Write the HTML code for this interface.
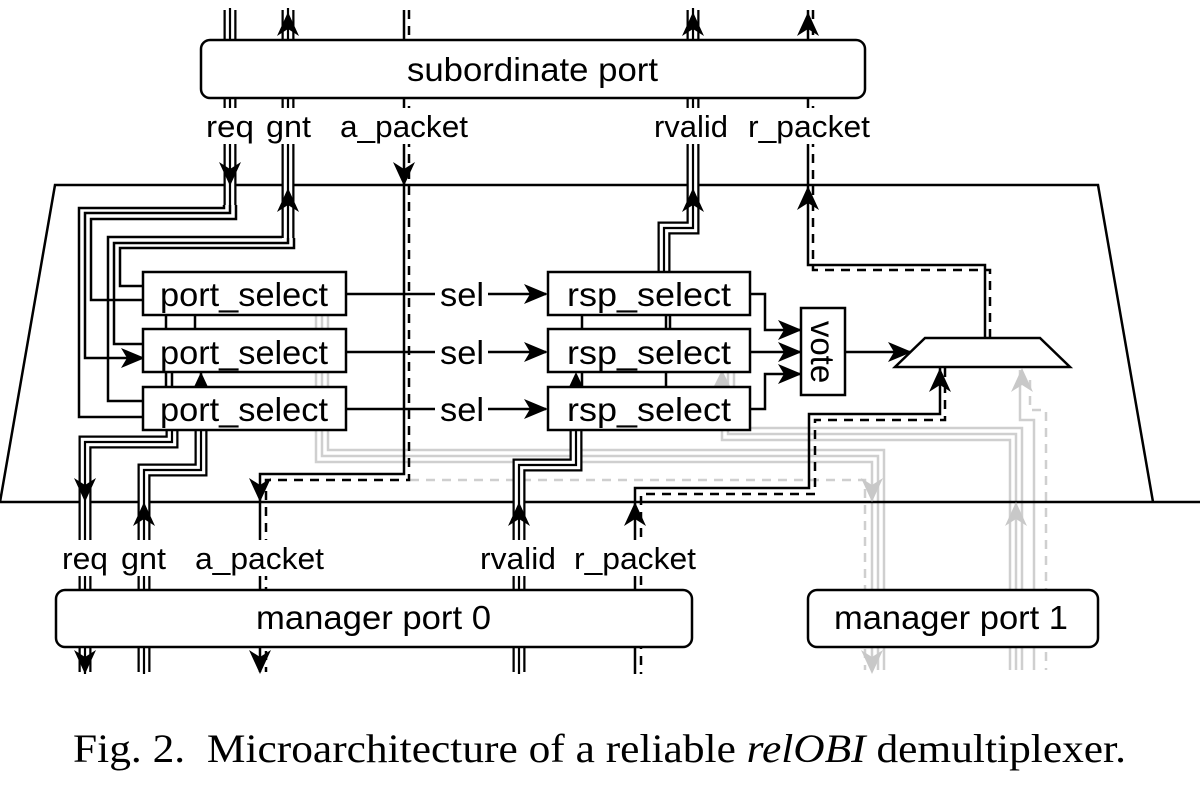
<!DOCTYPE html>
<html><head><meta charset="utf-8"><style>
html,body{margin:0;padding:0;background:#fff;}
svg{display:block;}
text{font-family:"Liberation Sans",sans-serif;fill:#000;}
.tri{fill:none;stroke-linejoin:miter;}
</style></head><body>
<svg width="1200" height="793" viewBox="0 0 1200 793" xmlns="http://www.w3.org/2000/svg">
<defs>
<marker id="a" markerWidth="26" markerHeight="22" refX="22" refY="10" orient="auto" markerUnits="userSpaceOnUse"><path d="M0,0 L24,10 L0,20 L6,10 Z" fill="#000"/></marker>
</defs>

<g fill="none" stroke="#cfcfcf" stroke-width="2.5">
<path d="M316,315 V462 H872 V670"/>
<path d="M322,315 V456 H878 V670"/>
<path d="M328,315 V450 H884 V670"/>
<path d="M722,370 V440 H1010 V670"/>
<path d="M728,370 V434 H1016 V670"/>
<path d="M734,370 V428 H1022 V670"/>
<path d="M1020,370 V420 H1034 V670"/>
<path d="M410,480 H865 V670" stroke-dasharray="9,7"/>
<path d="M1030,380 V410 H1046 V670" stroke-dasharray="9,7"/>
</g>

<path d="M0,502 L55,185 H1098 L1153,502" fill="none" stroke="#000" stroke-width="2.5"/>
<line x1="0" y1="502" x2="1200" y2="502" stroke="#000" stroke-width="2.5"/>

<g class="tri">
<g stroke="#000" stroke-width="13"><path d="M230,10 V40"/><path d="M288,10 V40"/><path d="M693,10 V40"/>
<path d="M230,98 V205"/><path d="M288,98 V238"/><path d="M693,98 V228 H664 V272"/>
<path d="M172,430 V442 H85 V672"/><path d="M201,430 V470 H144 V672"/>
<path d="M576,430 V465 H519 V672"/></g>
<g stroke="#fff" stroke-width="8.5"><path d="M230,8 V40"/><path d="M288,8 V40"/><path d="M693,8 V40"/>
<path d="M230,98 V205"/><path d="M288,98 V238"/><path d="M693,98 V228 H664 V273"/>
<path d="M172,429 V442 H85 V674"/><path d="M201,429 V470 H144 V674"/>
<path d="M576,429 V465 H519 V674"/></g>
<g stroke="#000" stroke-width="2.2"><path d="M230,8 V40"/><path d="M288,8 V40"/><path d="M693,8 V40"/>
<path d="M230,98 V205"/><path d="M288,98 V238"/><path d="M693,98 V228 H664 V273"/>
<path d="M172,429 V442 H85 V674"/><path d="M201,429 V470 H144 V674"/>
<path d="M576,429 V465 H519 V674"/></g>
</g>

<g fill="none" stroke="#000" stroke-width="2.5">
<path d="M224,205 V208 H79 V417 H143"/>
<path d="M230,205 V213 H85 V358 H143" marker-end="url(#a)"/>
<path d="M236,205 V219 H91 V300 H143"/>
<path d="M282,238 V237 H108 V401 H143"/>
<path d="M288,238 V243 H114 V344 H143"/>
<path d="M294,238 V248 H120 V286 H143"/>
<path d="M166,315 V329 M195,315 V329 M166,372 V387 M172,372 V387 M201,372 V387"/>
<path d="M582,315 V329 M666,315 V329 M582,372 V387 M666,372 V387 M670,315 V329"/>
<path d="M346,294 H435"/><path d="M488,294 H546" marker-end="url(#a)"/>
<path d="M346,352 H435"/><path d="M488,352 H546" marker-end="url(#a)"/>
<path d="M346,409 H435"/><path d="M488,409 H546" marker-end="url(#a)"/>
<path d="M750,294 H765 V330 H800" marker-end="url(#a)"/>
<path d="M750,352 H800" marker-end="url(#a)"/>
<path d="M750,409 H765 V374 H800" marker-end="url(#a)"/>
<path d="M845,352 H910" marker-end="url(#a)"/>
<path d="M404,10 V474 H260 V672"/>
<path d="M409,10 V480 H266 V672" stroke-dasharray="9,7"/>
<path d="M985,338 V265 H808 V10"/>
<path d="M990,338 V270 H813 V10" stroke-dasharray="9,7"/>
<path d="M940,368 V414 H809 V488 H635 V674"/>
<path d="M945,368 V420 H815 V494 H641 V674" stroke-dasharray="9,7"/>
</g>

<g fill="#fff">
<rect x="195" y="108" width="290" height="36"/>
<rect x="650" y="108" width="225" height="36"/>
<rect x="55" y="540" width="275" height="36"/>
<rect x="475" y="540" width="225" height="36"/>
<rect x="436" y="280" width="52" height="30"/>
<rect x="436" y="338" width="52" height="30"/>
<rect x="436" y="395" width="52" height="30"/>
</g>

<g fill="#000">
<path d="M230,186 l-11,-24 l11,7 l11,-7 z"/>
<path d="M288,188 l-11,24 l11,-7 l11,7 z"/>
<path d="M288,12 l-11,24 l11,-7 l11,7 z"/>
<path d="M404,186 l-11,-24 l11,7 l11,-7 z"/>
<path d="M693,188 l-11,24 l11,-7 l11,7 z"/>
<path d="M693,12 l-11,24 l11,-7 l11,7 z"/>
<path d="M808,186 l-11,24 l11,-7 l11,7 z"/>
<path d="M808,12 l-11,24 l11,-7 l11,7 z"/>
<path d="M940,368 l-11,24 l11,-7 l11,7 z"/>
<path d="M85,502 l-11,-24 l11,7 l11,-7 z"/>
<path d="M144,502 l-11,24 l11,-7 l11,7 z"/>
<path d="M260,502 l-11,-24 l11,7 l11,-7 z"/>
<path d="M519,502 l-11,24 l11,-7 l11,7 z"/>
<path d="M635,502 l-11,24 l11,-7 l11,7 z"/>
<path d="M85,674 l-11,-24 l11,7 l11,-7 z"/>
<path d="M260,674 l-11,-24 l11,7 l11,-7 z"/>
<path d="M201,372 l-7,15 l14,0 z"/>
<path d="M576,372 l-7,15 l14,0 z"/>
</g>
<g fill="#c8c8c8">
<path d="M872,502 l-11,-24 l11,7 l11,-7 z"/>
<path d="M1016,502 l-11,24 l11,-7 l11,7 z"/>
<path d="M1022,368 l-11,24 l11,-7 l11,7 z"/>
<path d="M722,370 l-8,16 l16,0 z"/>
<path d="M872,674 l-11,-24 l11,7 l11,-7 z"/>
</g>

<g fill="#fff" stroke="#000" stroke-width="2.5">
<rect x="201" y="40" width="664" height="58" rx="9"/>
<rect x="56" y="590" width="636" height="57" rx="9"/>
<rect x="808" y="590" width="290" height="57" rx="9"/>
<rect x="143" y="272" width="203" height="43"/>
<rect x="143" y="329" width="203" height="43"/>
<rect x="143" y="387" width="203" height="43"/>
<rect x="548" y="272" width="202" height="43"/>
<rect x="548" y="329" width="202" height="43"/>
<rect x="548" y="387" width="202" height="43"/>
<rect x="801" y="308" width="44" height="87"/>
<polygon points="925,338 1040,338 1070,367 895,367"/>
</g>

<g font-size="33">
<text x="407" y="81" textLength="251" lengthAdjust="spacingAndGlyphs">subordinate port</text>
<text x="256" y="629" textLength="235" lengthAdjust="spacingAndGlyphs">manager port 0</text>
<text x="834" y="629" textLength="234" lengthAdjust="spacingAndGlyphs">manager port 1</text>
<text x="160" y="306" textLength="168" lengthAdjust="spacingAndGlyphs">port_select</text>
<text x="160" y="364" textLength="168" lengthAdjust="spacingAndGlyphs">port_select</text>
<text x="160" y="421" textLength="168" lengthAdjust="spacingAndGlyphs">port_select</text>
<text x="567" y="306" textLength="164" lengthAdjust="spacingAndGlyphs">rsp_select</text>
<text x="567" y="364" textLength="164" lengthAdjust="spacingAndGlyphs">rsp_select</text>
<text x="567" y="421" textLength="164" lengthAdjust="spacingAndGlyphs">rsp_select</text>
<text transform="translate(811,352) rotate(90)" text-anchor="middle">vote</text>
<text x="440" y="306" textLength="44" lengthAdjust="spacingAndGlyphs">sel</text>
<text x="440" y="364" textLength="44" lengthAdjust="spacingAndGlyphs">sel</text>
<text x="440" y="421" textLength="44" lengthAdjust="spacingAndGlyphs">sel</text>
</g>
<g font-size="31">
<text x="206" y="137" textLength="48" lengthAdjust="spacingAndGlyphs">req</text>
<text x="266" y="137" textLength="45" lengthAdjust="spacingAndGlyphs">gnt</text>
<text x="340" y="137" textLength="128" lengthAdjust="spacingAndGlyphs">a_packet</text>
<text x="654" y="137" textLength="74" lengthAdjust="spacingAndGlyphs">rvalid</text>
<text x="748" y="137" textLength="122" lengthAdjust="spacingAndGlyphs">r_packet</text>
<text x="62" y="569" textLength="46" lengthAdjust="spacingAndGlyphs">req</text>
<text x="121" y="569" textLength="45" lengthAdjust="spacingAndGlyphs">gnt</text>
<text x="195" y="569" textLength="129" lengthAdjust="spacingAndGlyphs">a_packet</text>
<text x="480" y="569" textLength="76" lengthAdjust="spacingAndGlyphs">rvalid</text>
<text x="574" y="569" textLength="122" lengthAdjust="spacingAndGlyphs">r_packet</text>
</g>
<text x="73" y="762" font-size="40" textLength="1053" lengthAdjust="spacingAndGlyphs" style="font-family:'Liberation Serif',serif" xml:space="preserve">Fig. 2.  Microarchitecture of a reliable <tspan font-style="italic">relOBI</tspan> demultiplexer.</text>
</svg>
</body></html>
